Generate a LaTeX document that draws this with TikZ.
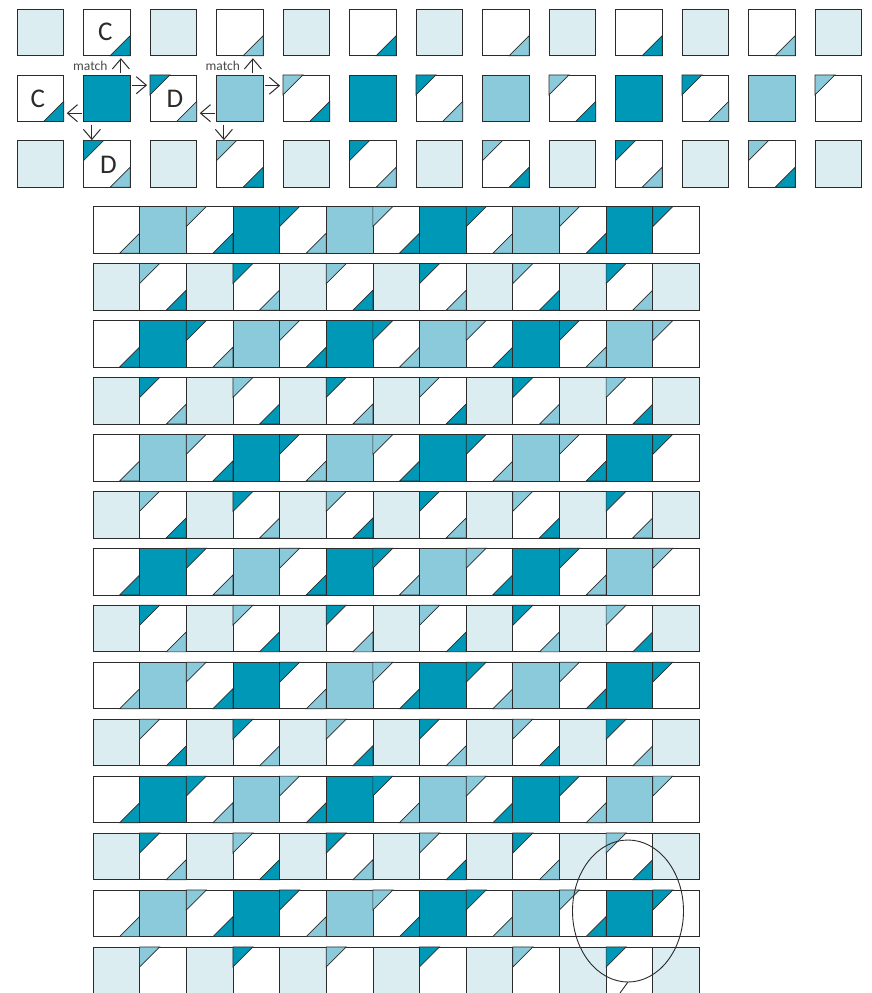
\documentclass[tikz,border=0pt]{standalone}
\usepackage{fontspec}
\setmainfont{Carlito}
\usetikzlibrary{arrows.meta,shapes.geometric}
\definecolor{deep}{HTML}{0098B7}
\definecolor{mid}{HTML}{8BCADB}
\definecolor{pale}{HTML}{DCEDF2}
\definecolor{ink}{HTML}{2B2B2B}
\tikzset{
  tile/.style={draw=ink,line width=0.75pt,minimum width=46.65pt,minimum height=46.6pt,inner sep=0pt,outer sep=0pt,shape=rectangle},
  corner/.style={draw=ink,line width=0.7pt,line join=miter},
  arr/.style={draw=ink,line width=1pt,-{Straight Barb[length=10pt,width=17pt,line width=1pt]}},
  letter/.style={font=\fontsize{27}{27}\selectfont,text=ink,inner sep=0pt},
  tag/.style={font=\fontsize{13.5}{14}\selectfont,text=ink!85,inner sep=0pt},
  lens/.style={shape=ellipse,draw=ink,line width=0.9pt,minimum width=111pt,minimum height=142pt,inner sep=0pt,outer sep=0pt},
  tail/.style={draw=ink,line width=0.9pt}
}
\newcommand\tlc[2]{\filldraw[corner,fill=#2] (#1.north west) -- ++(20,0) -- ++(-20,20) -- cycle;}
\newcommand\brc[2]{\filldraw[corner,fill=#2] (#1.south east) -- ++(-20,0) -- ++(20,-20) -- cycle;}
\newcommand\tilecodeP[2]{\node[tile,fill=pale] (#1) at (#2) {};}
\newcommand\tilecodeD[2]{\node[tile,fill=deep] (#1) at (#2) {};}
\newcommand\tilecodeL[2]{\node[tile,fill=mid] (#1) at (#2) {};}
\newcommand\tilecodea[2]{\node[tile,fill=white] (#1) at (#2) {};\brc{#1}{deep}}
\newcommand\tilecodeb[2]{\node[tile,fill=white] (#1) at (#2) {};\brc{#1}{mid}}
\newcommand\tilecodec[2]{\node[tile,fill=white] (#1) at (#2) {};\tlc{#1}{deep}}
\newcommand\tilecoded[2]{\node[tile,fill=white] (#1) at (#2) {};\tlc{#1}{mid}}
\newcommand\tilecodee[2]{\node[tile,fill=white] (#1) at (#2) {};\tlc{#1}{mid}\brc{#1}{deep}}
\newcommand\tilecodef[2]{\node[tile,fill=white] (#1) at (#2) {};\tlc{#1}{deep}\brc{#1}{mid}}
% prefix, centre x of first tile, pitch, centre y, list
\newcommand\tilerow[5]{%
  \edef\tilelist{#5}%
  \foreach \c [count=\i from 0] in \tilelist {%
    \pgfmathsetmacro\xx{#2+\i*#3}%
    \csname tilecode\c\endcsname{#1-\i}{\xx,#4}%
  }%
}
\def\rowU{P,a,P,b,P,a,P,b,P,a,P,b,P}
\def\rowA{b,L,e,D,f,L,e,D,f,L,e,D,c}
\def\rowB{P,e,P,f,P,e,P,f,P,e,P,f,P}
\def\rowC{a,D,f,L,e,D,f,L,e,D,f,L,d}
\def\rowD{P,f,P,e,P,f,P,e,P,f,P,e,P}
\def\rowE{P,d,P,c,P,d,P,c,P,d,P,c,P}
\begin{document}
\begin{tikzpicture}[x=1pt,y=-1pt]
\useasboundingbox[fill=white] (0,0) rectangle (872,993);
% upper group
\tilerow{u}{40.4}{66.5}{32.4}{\rowU}
\tilerow{v}{40.4}{66.5}{98.2}{\rowC}
\tilerow{w}{40.4}{66.5}{163.9}{\rowD}
% lower group
\foreach \n/\rw [count=\k from 0] in {a/\rowA,b/\rowB,c/\rowC,d/\rowD,e/\rowA,f/\rowB,g/\rowC,h/\rowD,j/\rowA,k/\rowB,l/\rowC,m/\rowD,n/\rowA,o/\rowE}{
  \pgfmathsetmacro\yy{229.9+\k*56.95}
  \tilerow{\n}{116.3}{46.65}{\yy}{\rw}
}
% letters
\node[letter] (c1) at (105.3,31.5) {C};
\node[letter] (c2) at (37.8,99) {C};
\node[letter] (d1) at (175,99) {D};
\node[letter] (d2) at (108.5,165) {D};
\node[tag] (m1) at (90.3,65.7) {match};
\node[tag] (m2) at (222.8,65.7) {match};
% arrows
\draw[arr] ([xshift=14pt,yshift=1.5pt]v-1.north) -- ([xshift=14pt,yshift=-2.5pt]u-1.south);
\draw[arr] ([xshift=1.5pt,yshift=13pt]v-1.east) -- ([xshift=-3pt,yshift=13pt]v-2.west);
\draw[arr] ([xshift=-1.5pt,yshift=-15pt]v-1.west) -- ([xshift=3pt,yshift=-15pt]v-0.east);
\draw[arr] ([xshift=-15pt,yshift=-3pt]v-1.south) -- ([xshift=-15pt,yshift=0.5pt]w-1.north);
\draw[arr] ([xshift=13pt,yshift=1.5pt]v-3.north) -- ([xshift=13pt,yshift=-2.5pt]u-3.south);
\draw[arr] ([xshift=1.5pt,yshift=12.5pt]v-3.east) -- ([xshift=-3pt,yshift=12.5pt]v-4.west);
\draw[arr] ([xshift=-1.5pt,yshift=-15pt]v-3.west) -- ([xshift=3pt,yshift=-15pt]v-2.east);
\draw[arr] ([xshift=-16pt,yshift=-3pt]v-3.south) -- ([xshift=-16pt,yshift=0.5pt]w-3.north);
% call-out
\node[lens] (loupe) at (628,911) {};
\coordinate (tailend) at (620,993);
\draw[tail] (loupe.south) -- (tailend);
\end{tikzpicture}
\end{document}
